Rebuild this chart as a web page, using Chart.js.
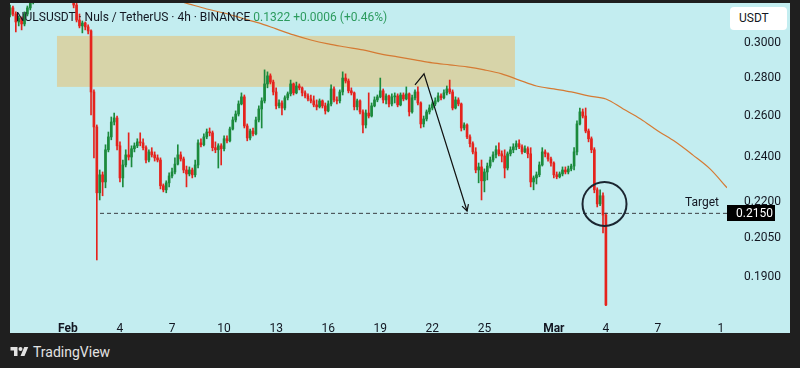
<!DOCTYPE html>
<html><head><meta charset="utf-8">
<script src="https://cdn.jsdelivr.net/npm/chart.js@4.4.1/dist/chart.umd.min.js"></script>
<style>
html,body{margin:0;padding:0;background:#1f1f1f;width:800px;height:368px;overflow:hidden;font-family:Roboto,"Noto Sans",sans-serif;}
#panel{position:absolute;left:10px;top:3px;width:780px;height:330px;background:#c3edf0;}
#c{position:absolute;left:10px;top:3px;}
#title{position:absolute;left:16px;top:10px;font-size:12px;color:#131722;white-space:nowrap;}
#title .g{color:#2c9b5e;}
#unit{position:absolute;left:730px;top:7px;width:57px;height:23px;background:#fff;border-radius:4px;font-size:12px;color:#131722;line-height:23px;padding-left:9px;box-sizing:border-box}
#logo{position:absolute;left:10px;top:344px;color:#e3e3e3;font-size:14px;display:flex;align-items:center;gap:4px;line-height:16px}
</style></head>
<body>
<div id="panel"></div>
<canvas id="c" width="780" height="330"></canvas>
<div id="title">NULSUSDT · Nuls / TetherUS · 4h · BINANCE <span class="g">0.1322 +0.0006 (+0.46%)</span></div>
<div id="unit">USDT</div>
<div id="logo"><svg width="19" height="14" viewBox="0 0 36 28"><path d="M14 22H7V11H0V4h14v18zM28 22h-8l7.5-18h8L28 22z" fill="#e3e3e3"/><circle cx="20" cy="8" r="4" fill="#e3e3e3"/></svg><span>TradingView</span></div>
<script>
// 4h candles, candle i sits (i + firstCandle) bars after Feb 1 00:00
const firstCandle = -21;
const firstOpen = 0.3106;
const closes = [
.3167,.3211,.3173,.3124,.3148,.3112,.3173,.3211,.3248,.3293,
.3325,.3358,.3391,.3424,.3404,.3444,.3430,.3417,.3391,.3371,.3352,
.3338,.3312,.3229,.3136,.3100,.3118,.3094,.3070,.2725,.2545,
.2238,.2318,.2286,.2434,.2496,.2570,.2590,.2453,.2304,.2363,
.2410,.2400,.2439,.2453,.2472,.2467,.2444,.2386,.2424,.2410,
.2396,.2386,.2269,.2251,.2282,.2313,.2331,.2367,.2410,.2391,
.2340,.2322,.2340,.2318,.2363,.2467,.2458,.2496,.2520,.2516,
.2444,.2434,.2453,.2439,.2487,.2477,.2535,.2580,.2610,
.2662,.2699,.2550,.2491,.2525,.2511,.2580,.2636,.2678,.2768,
.2812,.2778,.2725,.2652,.2667,.2641,.2694,.2715,.2768,.2720,
.2757,.2747,.2720,.2704,.2688,.2678,.2657,.2647,.2678,.2652,
.2626,.2662,.2741,.2683,.2678,.2725,.2800,.2784,.2731,.2720,
.2647,.2678,.2621,.2555,.2615,.2600,.2652,.2683,.2699,.2731,
.2683,.2704,.2662,.2699,.2704,.2657,.2709,.2688,.2715,
.2621,.2694,.2725,.2667,.2560,.2585,.2621,.2641,.2662,.2678,
.2704,.2694,.2720,.2741,.2725,.2641,.2683,.2662,.2540,.2555,
.2496,.2463,.2424,.2340,.2354,.2291,.2331,.2358,.2386,.2410,
.2434,.2415,.2405,.2349,.2415,.2434,.2448,.2463,.2448,.2424,
.2439,.2415,.2286,.2304,.2318,.2363,.2424,.2415,.2391,.2372,
.2318,.2309,.2322,.2340,.2331,.2345,.2358,.2424,.2560,.2621,
.2600,.2525,.2487,.2434,.2251,.2190,.2225,.2143,.1798];
const highs = [
.3186,.3229,.3223,.3186,.3161,.3155,.3186,.3223,.3261,.3312,
.3352,.3384,.3417,.3457,.3444,.3471,.3460,.3457,.3430,.3404,.3378,
.3365,.3352,.3325,.3242,.3173,.3130,.3124,.3106,.3076,.2736,
.2555,.2340,.2331,.2458,.2520,.2595,.2615,.2600,.2472,.2386,
.2434,.2516,.2453,.2467,.2487,.2516,.2487,.2453,.2434,.2444,
.2424,.2410,.2396,.2277,.2291,.2327,.2349,.2396,.2458,.2424,
.2400,.2358,.2354,.2349,.2386,.2482,.2487,.2511,.2535,.2540,
.2525,.2472,.2463,.2463,.2501,.2501,.2545,.2595,.2626,
.2678,.2720,.2709,.2560,.2535,.2540,.2595,.2652,.2694,.2845,
.2834,.2823,.2789,.2747,.2683,.2678,.2704,.2725,.2789,.2773,
.2778,.2768,.2752,.2731,.2715,.2709,.2704,.2683,.2688,.2683,
.2667,.2678,.2763,.2752,.2699,.2736,.2834,.2823,.2795,.2747,
.2725,.2688,.2683,.2631,.2631,.2720,.2667,.2699,.2709,.2800,
.2741,.2715,.2709,.2715,.2720,.2715,.2720,.2720,.2752,
.2720,.2709,.2736,.2752,.2673,.2600,.2631,.2657,.2673,.2694,
.2720,.2715,.2736,.2757,.2789,.2736,.2699,.2694,.2667,.2565,
.2560,.2506,.2472,.2444,.2372,.2386,.2345,.2372,.2400,.2424,
.2453,.2467,.2429,.2434,.2424,.2448,.2463,.2477,.2482,.2458,
.2453,.2448,.2444,.2313,.2331,.2377,.2444,.2434,.2420,.2400,
.2377,.2331,.2331,.2354,.2354,.2358,.2367,.2444,.2575,.2641,
.2636,.2641,.2535,.2496,.2444,.2260,.2251,.2238,.2151];
const lows = [
.3088,.3155,.3161,.3064,.3100,.3076,.3100,.3161,.3198,.3236,
.3280,.3312,.3338,.3378,.3391,.3391,.3410,.3404,.3378,.3352,.3325,
.3312,.3287,.3211,.3124,.3088,.3058,.3076,.3052,.2605,.2396,
.1963,.2207,.2225,.2260,.2424,.2482,.2555,.2434,.2286,.2264,
.2354,.2386,.2354,.2424,.2444,.2453,.2434,.2372,.2377,.2400,
.2381,.2377,.2255,.2242,.2238,.2264,.2304,.2322,.2363,.2381,
.2327,.2264,.2313,.2304,.2309,.2349,.2448,.2453,.2487,.2501,
.2429,.2420,.2349,.2363,.2429,.2467,.2472,.2530,.2570,
.2600,.2657,.2540,.2477,.2482,.2501,.2506,.2570,.2540,.2667,
.2747,.2768,.2709,.2636,.2641,.2605,.2631,.2683,.2704,.2709,
.2715,.2736,.2704,.2694,.2678,.2667,.2647,.2631,.2641,.2641,
.2610,.2621,.2652,.2673,.2662,.2667,.2709,.2773,.2720,.2709,
.2631,.2631,.2610,.2516,.2540,.2590,.2595,.2647,.2673,.2694,
.2667,.2662,.2647,.2652,.2667,.2647,.2652,.2678,.2683,
.2600,.2615,.2683,.2657,.2540,.2545,.2575,.2610,.2631,.2652,
.2673,.2683,.2688,.2709,.2715,.2631,.2636,.2652,.2525,.2530,
.2487,.2448,.2415,.2327,.2282,.2207,.2242,.2295,.2349,.2377,
.2396,.2405,.2377,.2304,.2340,.2405,.2420,.2434,.2439,.2415,
.2420,.2396,.2264,.2251,.2277,.2309,.2358,.2400,.2381,.2358,
.2304,.2300,.2304,.2313,.2322,.2322,.2336,.2340,.2410,.2555,
.2590,.2516,.2472,.2420,.2238,.2177,.2182,.2069,.1795];

// moving average (days since Feb 1)
const maDays = [6,7,8,9,10,11,12,13,14,15,16,17,18,19,20,21,22,23,24,25,26,27,28,29,30,31,32,33,34,35,36,37,37.98];
const maValues = [.3267,.3235,.3204,.3179,.3148,.3118,.3082,.3046,.3016,.2993,.2975,.2958,.2935,.2918,.2901,.2884,.2873,.2862,.2845,.2823,.2789,.2757,.2741,.2725,.2704,.2688,.2636,.2585,.2525,.2472,.2410,.2345,.2260];

const zoneDays = [-0.63, 25.76];
const zonePrices = [0.3040, 0.2752];
const targetPrice = 0.2150;
const targetStartDay = 1.85;
const arrowDays = [20.0, 20.52, 23.0];
const arrowPrices = [0.2763, 0.2823, 0.2160];
const circleDay = 30.92, circlePrice = 0.2190;

const xTickDays = [0,3,6,9,12,15,18,21,24,28,31,34,37.63];
const xTickLabels = ['Feb','4','7','10','13','16','19','22','25','Mar','4','7','1'];
const yTicks = [0.30,0.28,0.26,0.24,0.22,0.205,0.19];

const X_MIN = -3.336, X_MAX = 37.978;
const Y_MIN = 0.17803, Y_MAX = 0.32418;
const GREEN = '#1b8a3c', RED = '#e5231d';

const opens = closes.map((c, i) => i === 0 ? firstOpen : closes[i - 1]);
const days = closes.map((_, i) => (firstCandle + i) / 6);
const colors = closes.map((c, i) => c >= opens[i] ? GREEN : RED);

Chart.defaults.font.family = 'Roboto, "Noto Sans", sans-serif';

const overlay = {
  id: 'overlay',
  beforeDatasetsDraw(chart) {
    const {ctx, chartArea: a, scales: {x, y}} = chart;
    ctx.save();
    ctx.beginPath(); ctx.rect(a.left, a.top, a.right - a.left, a.bottom - a.top); ctx.clip();
    const x0 = x.getPixelForValue(zoneDays[0]), x1 = x.getPixelForValue(zoneDays[1]);
    const y0 = y.getPixelForValue(zonePrices[0]), y1 = y.getPixelForValue(zonePrices[1]);
    ctx.fillStyle = '#d7d4a9';
    ctx.fillRect(x0, y0, x1 - x0, y1 - y0);
    ctx.restore();
  },
  afterDatasetsDraw(chart) {
    const {ctx, chartArea: a, scales: {x, y}} = chart;
    ctx.save();
    const n = arrowDays.length;
    const tx = x.getPixelForValue(arrowDays[n-1]), ty = y.getPixelForValue(arrowPrices[n-1]);
    const px = x.getPixelForValue(arrowDays[n-2]), py = y.getPixelForValue(arrowPrices[n-2]);
    const ang = Math.atan2(ty - py, tx - px);
    ctx.strokeStyle = '#111'; ctx.lineWidth = 1.2;
    ctx.beginPath();
    ctx.moveTo(tx + 7*Math.cos(ang + Math.PI - 0.5), ty + 7*Math.sin(ang + Math.PI - 0.5));
    ctx.lineTo(tx, ty);
    ctx.lineTo(tx + 7*Math.cos(ang + Math.PI + 0.5), ty + 7*Math.sin(ang + Math.PI + 0.5));
    ctx.stroke();
    const ly = y.getPixelForValue(targetPrice);
    ctx.fillStyle = '#131722'; ctx.font = '12px Roboto, sans-serif';
    ctx.textAlign = 'right'; ctx.textBaseline = 'middle';
    ctx.fillText('Target', a.right - 8, ly - 10);
    ctx.restore();
  },
  afterDraw(chart) {
    const {ctx, chartArea: a, scales: {y}} = chart;
    const ly = y.getPixelForValue(targetPrice);
    ctx.save();
    ctx.fillStyle = '#000';
    ctx.fillRect(a.right, Math.round(ly) - 8, 48, 16);
    ctx.fillStyle = '#fff'; ctx.font = '12px Roboto, sans-serif';
    ctx.textAlign = 'left'; ctx.textBaseline = 'middle';
    ctx.fillText(targetPrice.toFixed(4), a.right + 9, Math.round(ly) + 0.5);
    ctx.restore();
  }
};

new Chart(document.getElementById('c'), {
  type: 'bar',
  data: {
    datasets: [
      {type: 'bubble', data: [{x: circleDay, y: circlePrice, r: 22}], backgroundColor: 'rgba(0,0,0,0)', borderColor: '#1b2631', borderWidth: 2, hoverRadius: 0, order: 0, clip: 0},
      {type: 'line', data: arrowDays.map((d, i) => ({x: d, y: arrowPrices[i]})), borderColor: '#111', borderWidth: 1.2, pointRadius: 0, tension: 0, order: 1, clip: 0},
      {type: 'line', data: [{x: targetStartDay, y: targetPrice}, {x: X_MAX, y: targetPrice}], borderColor: '#3a3f44', borderWidth: 1, borderDash: [4, 3], pointRadius: 0, order: 1, clip: 0},
      {type: 'bar', data: days.map((d, i) => ({x: d, y: [opens[i], closes[i]]})), backgroundColor: colors, barThickness: 2, minBarLength: 1, grouped: false, order: 2, clip: 0},
      {type: 'bar', data: days.map((d, i) => ({x: d, y: [lows[i], highs[i]]})), backgroundColor: colors, barThickness: 1, grouped: false, order: 3, clip: 0},
      {type: 'line', data: maDays.map((d, i) => ({x: d, y: maValues[i]})), borderColor: '#d57a33', borderWidth: 1.2, pointRadius: 0, cubicInterpolationMode: 'monotone', order: 4, clip: 0}
    ]
  },
  options: {
    responsive: false, animation: false, devicePixelRatio: 1,
    layout: {padding: 0, autoPadding: false},
    plugins: {legend: {display: false}, tooltip: {enabled: false}},
    events: [],
    scales: {
      x: {
        type: 'linear', min: X_MIN, max: X_MAX, offset: false, bounds: 'data',
        grid: {display: false}, border: {display: false},
        afterBuildTicks: s => { s.ticks = xTickDays.map(v => ({value: v})); },
        afterFit: s => { s.height = 23; s.paddingLeft = 0; s.paddingRight = 0; },
        ticks: {
          autoSkip: false, maxRotation: 0, minRotation: 0, padding: 4, color: '#131722',
          callback: v => xTickLabels[xTickDays.indexOf(v)],
          font: c => ({size: 12, weight: (c.tick && /[A-Za-z]/.test(xTickLabels[xTickDays.indexOf(c.tick.value)] || '')) ? 'bold' : 'normal'})
        }
      },
      y: {
        type: 'logarithmic', position: 'right', min: Y_MIN, max: Y_MAX, bounds: 'data', beginAtZero: false,
        grid: {display: false}, border: {display: false},
        afterBuildTicks: s => { s.ticks = yTicks.map(v => ({value: v})); },
        afterFit: s => { s.width = 63; s.paddingTop = 0; s.paddingBottom = 0; },
        ticks: {autoSkip: false, padding: 9, color: '#131722', font: {size: 12}, callback: v => Number(v).toFixed(4)}
      }
    }
  },
  plugins: [overlay]
});
</script>
</body></html>
